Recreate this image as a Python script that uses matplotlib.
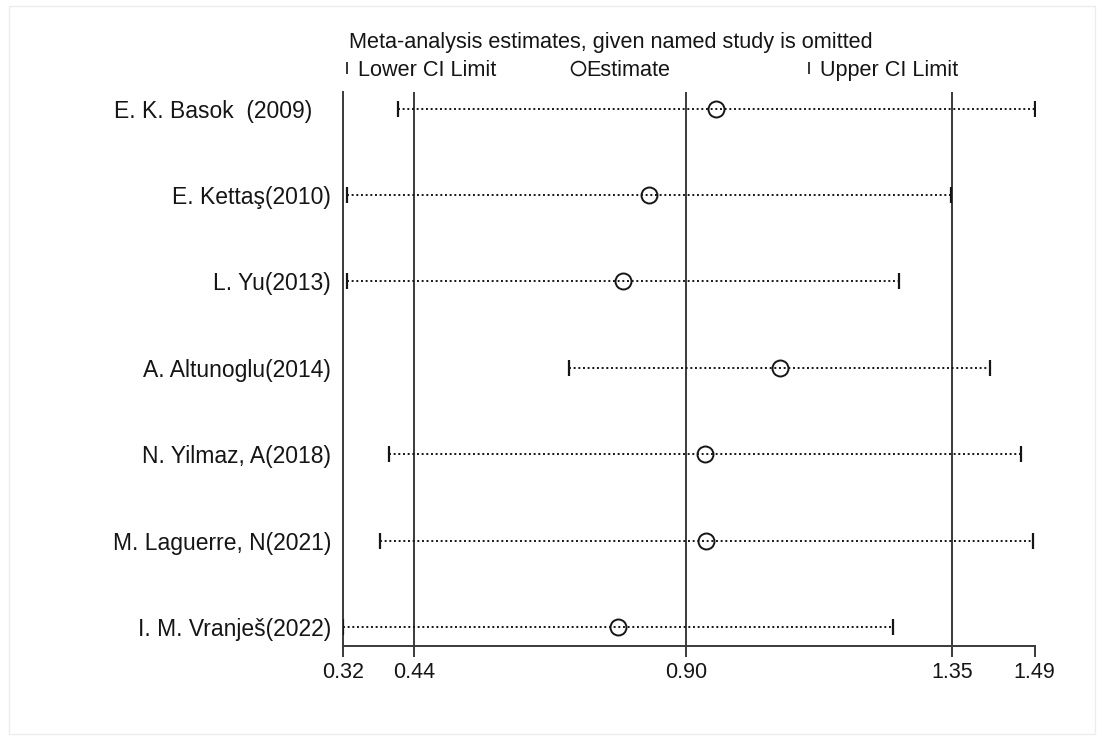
import matplotlib
matplotlib.use("Agg")
import matplotlib.pyplot as plt
from matplotlib.patches import Rectangle

plt.rcParams["font.family"] = ["Liberation Sans", "DejaVu Sans"]

# leave-one-out sensitivity analysis: pooled estimate with each study omitted
studies = [
    "E. K. Basok  (2009)   ",
    "E. Kettaş(2010)",
    "L. Yu(2013)",
    "A. Altunoglu(2014)",
    "N. Yilmaz, A(2018)",
    "M. Laguerre, N(2021)",
    "I. M. Vranješ(2022)",
]
estimate = [0.951, 0.838, 0.793, 1.059, 0.933, 0.934, 0.785]
lower_ci = [0.413, 0.326, 0.326, 0.702, 0.397, 0.382, 0.320]
upper_ci = [1.490, 1.348, 1.260, 1.415, 1.467, 1.487, 1.251]

ref_lines = [0.44, 0.90, 1.35]
xticks = [0.32, 0.44, 0.90, 1.35, 1.49]
xticklabels = ["0.32", "0.44", "0.90", "1.35", "1.49"]

INK = "#151515"
LINE = "#3a3a3a"

fig = plt.figure(figsize=(11.04, 7.38), dpi=100)
ax = fig.add_axes([0.3107, 0.1252, 0.6264, 0.7501])

rows = list(range(1, len(studies) + 1))

for x in ref_lines:
    ax.axvline(x, color=LINE, lw=1.4, zorder=1)

ax.hlines(rows, lower_ci, upper_ci, colors=INK, lw=1.4,
          linestyles=(0, (1, 1.4)), zorder=2)
ax.plot(lower_ci, rows, ls="none", marker="|", ms=11, mew=1.6, color=INK, zorder=3)
ax.plot(upper_ci, rows, ls="none", marker="|", ms=11, mew=1.6, color=INK, zorder=3)
ax.plot(estimate, rows, ls="none", marker="o", ms=11.5, mfc="none", mew=1.4,
        mec=INK, zorder=4)

ax.set_xlim(0.32, 1.49)
ax.set_ylim(7.215, 0.807)
ax.set_xticks(xticks)
ax.set_xticklabels(xticklabels, fontsize=15.5, color=INK)
ax.tick_params(axis="x", direction="out", length=8, width=1.4, color=LINE, pad=4)
ax.set_yticks(rows)
ax.set_yticklabels(studies, fontsize=16.5, color=INK)
ax.tick_params(axis="y", length=0, pad=8.5)
for s in ("top", "right"):
    ax.spines[s].set_visible(False)
for s in ("left", "bottom"):
    ax.spines[s].set_color(LINE)
    ax.spines[s].set_linewidth(1.4)

# title and key above the plot region
fig.text(349 / 1104, 1 - 40 / 738, "Meta-analysis estimates, given named study is omitted",
         fontsize=15.6, color=INK, ha="left", va="center_baseline")
key_y = 1 - 68 / 738
key = [(347, "|", "Lower CI Limit"), (578, "o", "Estimate"), (809, "|", "Upper CI Limit")]
for px, mk, lab in key:
    if mk == "o":
        fig.lines.append(plt.Line2D([px / 1104], [key_y], marker="o", ms=10, mfc="none",
                                    mew=1.2, mec=INK, transform=fig.transFigure))
        tx = px + 8
    else:
        fig.lines.append(plt.Line2D([px / 1104], [key_y], marker="|", ms=8, mew=1.2,
                                    color=INK, transform=fig.transFigure))
        tx = px + 11
    fig.text(tx / 1104, key_y, lab, fontsize=15.6, color=INK, ha="left",
             va="center_baseline")

# faint outer frame
fig.patches.append(Rectangle((9 / 1104, 4 / 738), 1086 / 1104, 728 / 738,
                             transform=fig.transFigure, fill=False,
                             edgecolor="#ececec", lw=1.0))

fig.savefig("out.png", dpi=100, facecolor="white")
